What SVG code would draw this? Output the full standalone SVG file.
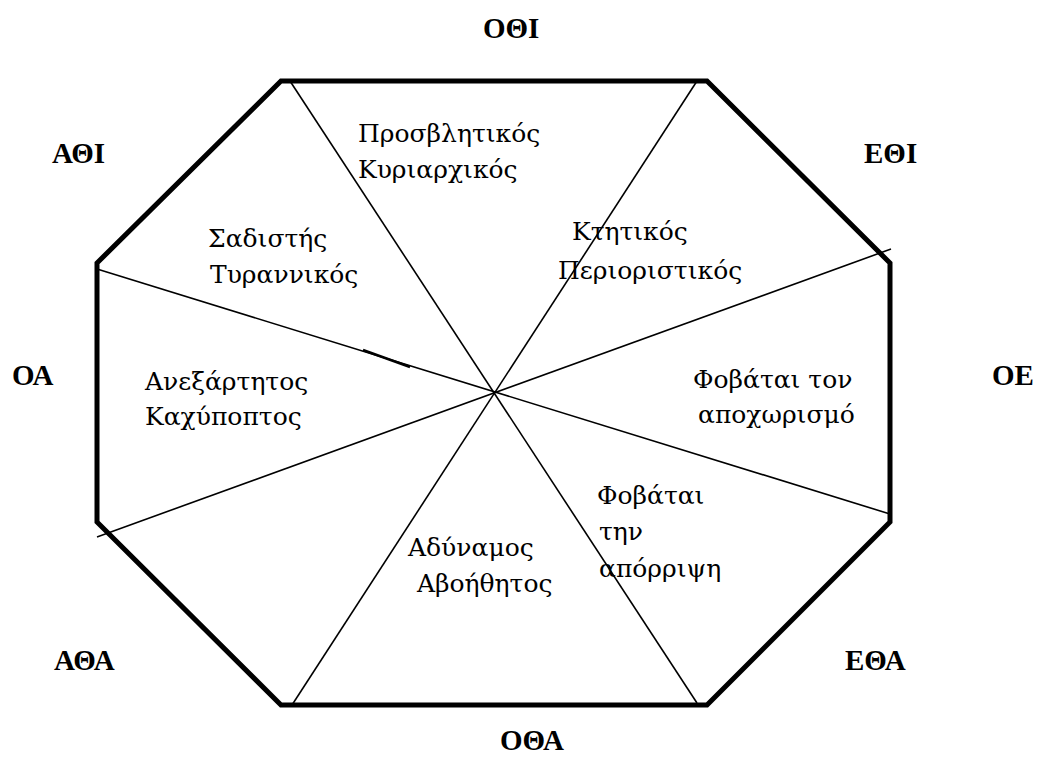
<svg xmlns="http://www.w3.org/2000/svg" width="1040" height="776" viewBox="0 0 1040 776">
<style>
.oct{fill:none;stroke:#000;stroke-width:5;stroke-linejoin:miter}
.ln{stroke:#000;stroke-width:1.6;fill:none}
text{fill:#000}
.lbl{font-family:'Liberation Serif','Times New Roman',serif;font-weight:bold;font-size:29px}
.txt{font-family:'DejaVu Serif',serif;font-size:25px}
</style>
<rect width="1040" height="776" fill="#fff"/>
<g id="octagon">
<polygon class="oct" points="281,81 707,81 890,263 890,522 707,705 281,705 97,522 97,263"/>
</g>
<g id="connectors">
<line class="ln" x1="290" y1="81" x2="697" y2="703"/>
<line class="ln" x1="697" y1="81" x2="292" y2="705"/>
<line class="ln" x1="97" y1="269" x2="890" y2="514"/>
<line class="ln" x1="97" y1="537" x2="891" y2="249"/>
<line class="ln" x1="363" y1="350" x2="410" y2="367" style="stroke-width:2.6"/>
</g>
<g id="ΟΘΙ"><text class="lbl" x="483" y="38">ΟΘΙ</text></g>
<g id="ΑΘΙ"><text class="lbl" x="52" y="163">ΑΘΙ</text></g>
<g id="ΕΘΙ"><text class="lbl" x="864" y="163">ΕΘΙ</text></g>
<g id="ΟΑ"><text class="lbl" x="12" y="385">ΟΑ</text></g>
<g id="ΟΕ"><text class="lbl" x="992" y="385">ΟΕ</text></g>
<g id="ΑΘΑ"><text class="lbl" x="54" y="670">ΑΘΑ</text></g>
<g id="ΕΘΑ"><text class="lbl" x="845" y="670">ΕΘΑ</text></g>
<g id="ΟΘΑ"><text class="lbl" x="500" y="750">ΟΘΑ</text></g>
<g id="s1"><text class="txt" x="358" y="142">Προσβλητικός</text><text class="txt" x="358" y="178">Κυριαρχικός</text></g>
<g id="s2"><text class="txt" x="208" y="247">Σαδιστής</text><text class="txt" x="210" y="283">Τυραννικός</text></g>
<g id="s3"><text class="txt" x="572" y="240">Κτητικός</text><text class="txt" x="558" y="279">Περιοριστικός</text></g>
<g id="s4"><text class="txt" x="145" y="390">Ανεξάρτητος</text><text class="txt" x="145" y="425">Καχύποπτος</text></g>
<g id="s5"><text class="txt" x="693" y="388">Φοβάται τον</text><text class="txt" x="698" y="423">αποχωρισμό</text></g>
<g id="s6"><text class="txt" x="597" y="504">Φοβάται</text><text class="txt" x="599" y="540">την</text><text class="txt" x="599" y="577">απόρριψη</text></g>
<g id="s7"><text class="txt" x="408" y="556">Αδύναμος</text><text class="txt" x="417" y="592">Αβοήθητος</text></g>
</svg>
